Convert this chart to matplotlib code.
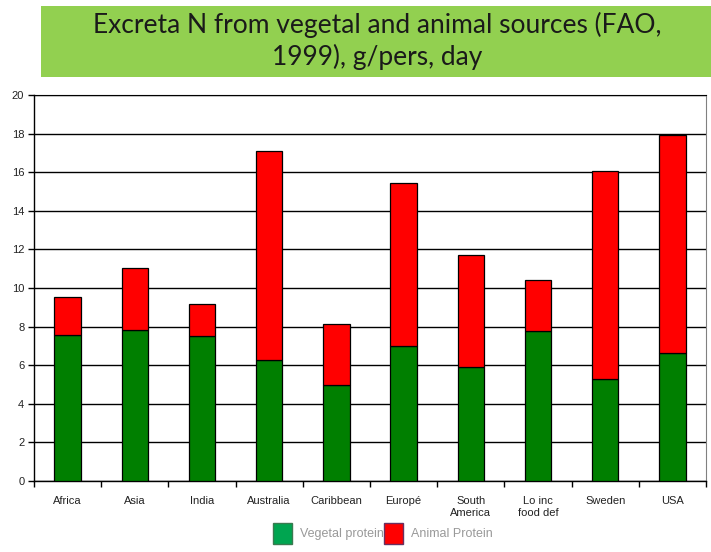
import matplotlib
matplotlib.use("Agg")
import matplotlib.pyplot as plt
from matplotlib.patches import Rectangle, Patch
import numpy as np

regions = ["Africa", "Asia", "India", "Australia", "Caribbean", "Europé",
           "South\nAmerica", "Lo inc\nfood def", "Sweden", "USA"]
vegetal = [7.55, 7.8, 7.5, 6.25, 5.0, 7.0, 5.9, 7.75, 5.3, 6.65]
animal_total = [9.55, 11.05, 9.15, 17.1, 8.15, 15.45, 11.7, 10.4, 16.05, 17.95]
animal = [t - v for t, v in zip(animal_total, vegetal)]
y_ticks = list(range(0, 21, 2))

title = "Excreta N from vegetal and animal sources (FAO,\n1999), g/pers, day"

fig = plt.figure(figsize=(7.11, 5.52), dpi=100)

# green title banner
fig.patches.append(Rectangle((41 / 711, 1 - 77 / 552), 670 / 711, 71 / 552,
                             transform=fig.transFigure, facecolor="#92D050",
                             edgecolor="none", zorder=0))
fig.text(377 / 711, 1 - 41 / 552, title, ha="center", va="center",
         fontsize=19, family="Lato", color="#1a1a1a", linespacing=1.25)

ax = fig.add_axes([34 / 711, 1 - 481 / 552, 672 / 711, 386 / 552])
x = np.arange(len(regions))
w = 0.39
ax.bar(x, vegetal, width=w, color="#007F00", edgecolor="black", linewidth=0.9, zorder=3)
ax.bar(x, animal, width=w, bottom=vegetal, color="#FF0000", edgecolor="black",
       linewidth=0.9, zorder=3)

ax.set_xlim(-0.5, len(regions) - 0.5)
ax.set_ylim(0, 20)
ax.set_yticks(y_ticks)
ax.set_yticklabels([str(v) for v in y_ticks], fontsize=8, color="#222222",
                   family="Liberation Sans")
ax.yaxis.grid(True, color="black", linewidth=1.0, zorder=0)
ax.set_axisbelow(True)

ax.set_xticks(x)
ax.set_xticklabels(regions, fontsize=8, color="#222222", family="Liberation Sans",
                   linespacing=1.25)
ax.set_xticks(np.arange(-0.5, len(regions) + 0.5, 1), minor=True)
ax.tick_params(axis="x", which="major", length=0, pad=11)
ax.tick_params(axis="x", which="minor", length=4, width=1, color="black", direction="out")
ax.tick_params(axis="y", length=4, width=1, color="black", direction="out", pad=3)

for side in ("left", "bottom"):
    ax.spines[side].set_color("black")
    ax.spines[side].set_linewidth(1.0)
ax.spines["top"].set_color("black")
ax.spines["right"].set_color("#808080")

handles = [Patch(facecolor="#00A550", edgecolor="#3a7a50", label="Vegetal protein"),
           Patch(facecolor="#FF0000", edgecolor="#6a3060", label="Animal Protein")]
fig.legend(handles=handles, loc="upper center", bbox_to_anchor=(383 / 711, 1 - 519 / 552),
           ncol=2, frameon=False, handlelength=1.52, handleheight=2.24,
           columnspacing=0.0, handletextpad=0.64, labelcolor="#999999",
           borderaxespad=0.0, borderpad=0.3,
           prop={"family": "Liberation Sans", "size": 9})

fig.savefig("out.png", dpi=100)
